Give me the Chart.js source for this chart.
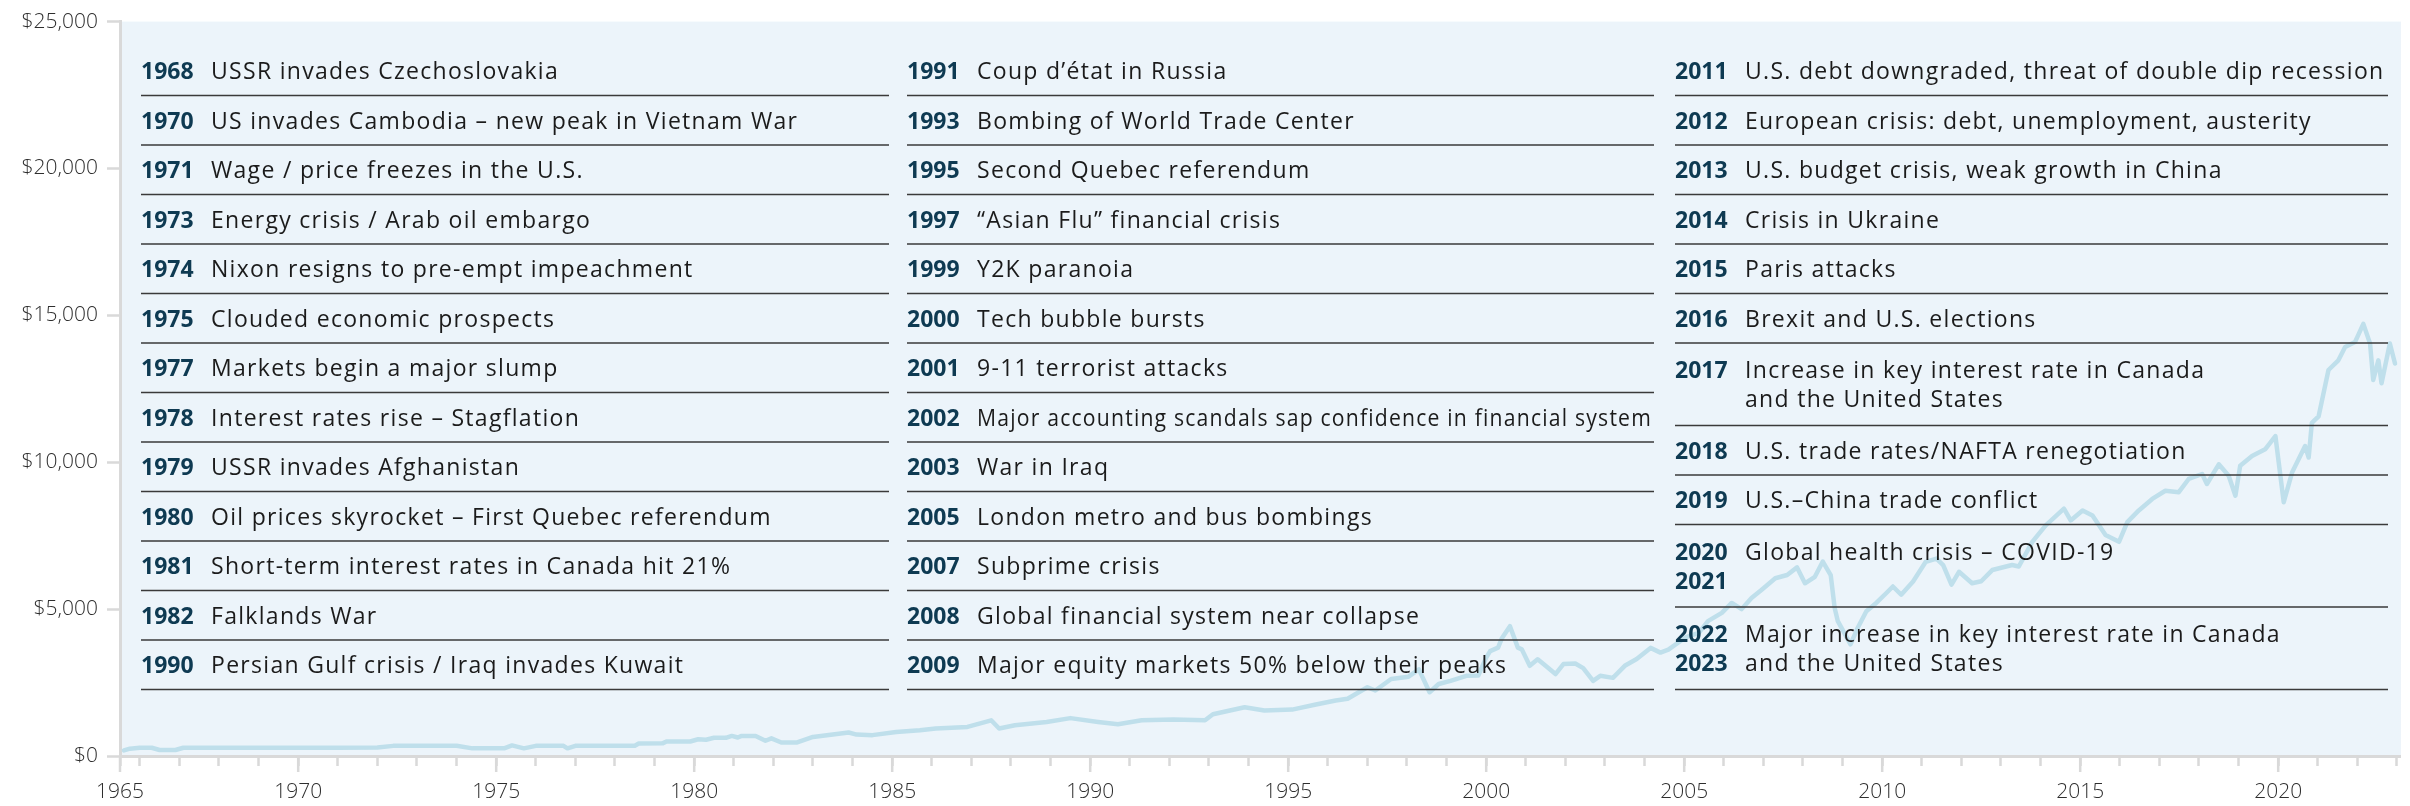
<!DOCTYPE html>
<html lang="en">
<head>
<meta charset="utf-8">
<title>Market events 1965–2023</title>
<script src="https://cdn.jsdelivr.net/npm/chart.js@4.4.1/dist/chart.umd.min.js"></script>
<style>
  html, body { margin: 0; padding: 0; background: #ffffff; }
  #wrap { width: 2410px; height: 806px; }
</style>
</head>
<body>
<div id="wrap"><canvas id="eventsChart" width="2410" height="806"></canvas></div>
<script>
// series (decimal year, value in $)
const years = [
  1965.6, 1965.75, 1966.0, 1966.3, 1966.5, 1966.9, 1967.1, 1968.0, 1969.0, 1970.0,
  1971.0, 1972.0, 1972.4, 1973.0, 1974.0, 1974.4, 1975.2, 1975.4, 1975.7, 1976.0,
  1976.7, 1976.8, 1977.0, 1978.0, 1978.5, 1978.6, 1979.2, 1979.3, 1979.9, 1980.1,
  1980.3, 1980.5, 1980.8, 1980.95, 1981.1, 1981.2, 1981.55, 1981.8, 1981.95, 1982.2,
  1982.6, 1983.0, 1983.35, 1983.9, 1984.1, 1984.5, 1985.1, 1985.7, 1986.1, 1986.9,
  1987.5, 1987.7, 1988.1, 1988.9, 1989.5, 1990.2, 1990.7, 1991.3, 1992.1, 1992.9,
  1993.1, 1993.9, 1994.4, 1995.1, 1995.7, 1996.2, 1996.5, 1997.0, 1997.2, 1997.6,
  1998.04, 1998.3, 1998.57, 1998.8, 1999.1, 1999.5, 1999.8, 2000.0, 2000.1, 2000.3,
  2000.4, 2000.6, 2000.8, 2000.9, 2001.1, 2001.3, 2001.5, 2001.75, 2001.95, 2002.25,
  2002.45, 2002.7, 2002.88, 2003.2, 2003.5, 2003.8, 2004.15, 2004.4, 2004.6, 2005.05,
  2005.37, 2005.6, 2005.95, 2006.2, 2006.45, 2006.7, 2006.95, 2007.3, 2007.6, 2007.85,
  2008.05, 2008.3, 2008.5, 2008.7, 2008.8, 2008.88, 2009.2, 2009.38, 2009.6, 2009.85,
  2010.1, 2010.27, 2010.48, 2010.78, 2011.1, 2011.37, 2011.54, 2011.75, 2011.94, 2012.27,
  2012.5, 2012.78, 2013.28, 2013.45, 2013.79, 2014.13, 2014.59, 2014.76, 2015.06, 2015.31,
  2015.64, 2015.98, 2016.19, 2016.48, 2016.82, 2017.15, 2017.49, 2017.74, 2018.08, 2018.2,
  2018.5, 2018.75, 2018.92, 2019.04, 2019.34, 2019.67, 2019.93, 2020.14, 2020.35, 2020.68,
  2020.77, 2020.85, 2021.02, 2021.27, 2021.52, 2021.69, 2021.94, 2022.15, 2022.32, 2022.4,
  2022.53, 2022.61, 2022.82, 2022.95
];
const values = [
  190, 250, 280, 280, 205, 205, 280, 285, 285, 280,
  285, 290, 345, 350, 350, 260, 260, 360, 260, 345,
  345, 260, 345, 350, 350, 425, 430, 495, 495, 570,
  555, 620, 620, 685, 630, 685, 680, 520, 600, 460,
  460, 650, 710, 800, 730, 710, 820, 880, 935, 990,
  1215, 935, 1045, 1160, 1290, 1160, 1080, 1215, 1240, 1215,
  1420, 1660, 1550, 1580, 1754, 1890, 1950, 2340, 2230, 2620,
  2700, 2950, 2170, 2450, 2560, 2730, 2740, 3350, 3570, 3690,
  4020, 4420, 3690, 3630, 3070, 3290, 3070, 2790, 3130, 3150,
  2990, 2560, 2730, 2660, 3070, 3300, 3680, 3520, 3620, 4050,
  4190, 4590, 4870, 5210, 5000, 5380, 5650, 6050, 6160, 6420,
  5880, 6100, 6620, 6160, 5040, 4590, 3800, 4360, 4930, 5210,
  5540, 5770, 5490, 5940, 6610, 6720, 6500, 5830, 6270, 5880,
  5950, 6330, 6500, 6450, 7290, 7850, 8420, 8020, 8360, 8190,
  7520, 7290, 7960, 8360, 8750, 9030, 8980, 9430, 9600, 9260,
  9930, 9540, 8860, 9880, 10210, 10440, 10890, 8640, 9650, 10550,
  10160, 11340, 11560, 13140, 13470, 13920, 14090, 14710, 14040, 12800,
  13470, 12690, 14040, 13360
];

const yTicks = [0, 5000, 10000, 15000, 20000, 25000];
const xStart = 1965.5;   // axis starts mid-1965, labelled "1965"
const xEnd = 2023.1;
const xLabelYears = [1965, 1970, 1975, 1980, 1985, 1990, 1995, 2000, 2005, 2010, 2015, 2020];

// event list, one pair of arrays per column ("\n" = second line)
const col1Years = ['1968', '1970', '1971', '1973', '1974', '1975', '1977', '1978', '1979', '1980', '1981', '1982', '1990'];
const col1Texts = [
  'USSR invades Czechoslovakia',
  'US invades Cambodia – new peak in Vietnam War',
  'Wage / price freezes in the U.S.',
  'Energy crisis / Arab oil embargo',
  'Nixon resigns to pre-empt impeachment',
  'Clouded economic prospects',
  'Markets begin a major slump',
  'Interest rates rise – Stagflation',
  'USSR invades Afghanistan',
  'Oil prices skyrocket – First Quebec referendum',
  'Short-term interest rates in Canada hit 21%',
  'Falklands War',
  'Persian Gulf crisis / Iraq invades Kuwait'
];
const col2Years = ['1991', '1993', '1995', '1997', '1999', '2000', '2001', '2002', '2003', '2005', '2007', '2008', '2009'];
const col2Texts = [
  'Coup d’état in Russia',
  'Bombing of World Trade Center',
  'Second Quebec referendum',
  '“Asian Flu” financial crisis',
  'Y2K paranoia',
  'Tech bubble bursts',
  '9-11 terrorist attacks',
  'Major accounting scandals sap confidence in financial system',
  'War in Iraq',
  'London metro and bus bombings',
  'Subprime crisis',
  'Global financial system near collapse',
  'Major equity markets 50% below their peaks'
];
const col3Years = ['2011', '2012', '2013', '2014', '2015', '2016', '2017', '2018', '2019', '2020\n2021', '2022\n2023'];
const col3Texts = [
  'U.S. debt downgraded, threat of double dip recession',
  'European crisis: debt, unemployment, austerity',
  'U.S. budget crisis, weak growth in China',
  'Crisis in Ukraine',
  'Paris attacks',
  'Brexit and U.S. elections',
  'Increase in key interest rate in Canada\nand the United States',
  'U.S. trade rates/NAFTA renegotiation',
  'U.S.–China trade conflict',
  'Global health crisis – COVID-19',
  'Major increase in key interest rate in Canada\nand the United States'
];

const FONT = '"Open Sans", "Noto Sans", "DejaVu Sans", sans-serif';

// column placement of the event list (canvas px)
const columns = [
  { years: col1Years, texts: col1Texts, yearX: 141, descX: 211, endX: 889 },
  { years: col2Years, texts: col2Texts, yearX: 907, descX: 977, endX: 1654 },
  { years: col3Years, texts: col3Texts, yearX: 1675, descX: 1745, endX: 2388 }
];
const listTop = 46;
const rowH = 49.5;
const doubleRowH = 82.5;
const firstLineOffset = 26.8;
const doubleFirstOffset = 28.5;
const lineGap = 29;

const plotBackground = {
  id: 'plotBackground',
  beforeDraw(chart) {
    const { ctx, chartArea } = chart;
    ctx.save();
    ctx.fillStyle = '#ecf4fa';
    ctx.fillRect(chartArea.left, chartArea.top, chartArea.right - chartArea.left, chartArea.bottom - chartArea.top);
    ctx.restore();
  }
};

// longer ticks at labelled years
const majorTicks = {
  id: 'majorTicks',
  afterDraw(chart) {
    const xs = chart.scales.x;
    const ctx = chart.ctx;
    ctx.save();
    ctx.strokeStyle = '#d9d9d9';
    ctx.lineWidth = 2.5;
    const vals = [xStart].concat(xLabelYears.filter(y => y > xStart));
    vals.forEach(v => {
      const px = xs.getPixelForValue(v);
      ctx.beginPath();
      ctx.moveTo(px, xs.top);
      ctx.lineTo(px, xs.top + 16);
      ctx.stroke();
    });
    ctx.restore();
  }
};

const eventList = {
  id: 'eventList',
  afterDatasetsDraw(chart) {
    const ctx = chart.ctx;
    ctx.save();
    ctx.textBaseline = 'middle';
    columns.forEach(col => {
      let top = listTop;
      col.years.forEach((yr, i) => {
        const yrLines = yr.split('\n');
        const txLines = col.texts[i].split('\n');
        const n = Math.max(yrLines.length, txLines.length);
        const h = n > 1 ? doubleRowH : rowH;
        const off = n > 1 ? doubleFirstOffset : firstLineOffset;
        for (let k = 0; k < n; k++) {
          const cy = top + off + k * lineGap;
          if (yrLines[k]) {
            ctx.letterSpacing = '0px';
            ctx.font = '700 23px ' + FONT;
            ctx.fillStyle = '#0e3a52';
            ctx.fillText(yrLines[k], col.yearX, cy);
          }
          if (txLines[k]) {
            ctx.letterSpacing = '1.3px';
            ctx.font = '400 23px ' + FONT;
            ctx.fillStyle = '#1b1b1b';
            ctx.fillText(txLines[k], col.descX, cy, col.endX - col.descX - 2);
          }
        }
        top += h;
        ctx.strokeStyle = '#3a3a3a';
        ctx.lineWidth = 1.6;
        ctx.beginPath();
        ctx.moveTo(col.yearX, top);
        ctx.lineTo(col.endX, top);
        ctx.stroke();
      });
    });
    ctx.restore();
  }
};

function xTickValues() {
  const ticks = [xStart];
  for (let y = Math.ceil(xStart); y <= xEnd; y++) ticks.push(y);
  return ticks;
}

function xLabel(v) {
  if (v === xStart) return String(xLabelYears[0]);
  return xLabelYears.includes(v) ? String(v) : '';
}

const ctx = document.getElementById('eventsChart').getContext('2d');
new Chart(ctx, {
  type: 'line',
  data: {
    datasets: [{
      label: 'Value',
      data: years.map((y, i) => ({ x: y, y: values[i] })),
      borderColor: '#bfdfeb',
      borderWidth: 4.5,
      pointRadius: 0,
      tension: 0,
      borderJoinStyle: 'round',
      borderCapStyle: 'round',
      fill: false
    }]
  },
  options: {
    responsive: false,
    animation: false,
    devicePixelRatio: 1,
    layout: { padding: { top: 15, right: 8, left: 0, bottom: 0 } },
    plugins: {
      legend: { display: false },
      tooltip: { enabled: false }
    },
    scales: {
      x: {
        type: 'linear',
        min: xStart,
        max: xEnd,
        afterBuildTicks: scale => { scale.ticks = xTickValues().map(v => ({ value: v })); },
        afterFit: scale => { scale.height = 50; },
        grid: { drawOnChartArea: false, drawTicks: true, tickLength: 10, tickColor: '#d9d9d9', tickWidth: 2.5 },
        border: { display: true, color: '#d9d9d9', width: 3 },
        ticks: {
          autoSkip: false,
          maxRotation: 0,
          padding: 13,
          color: '#2e2e2e',
          font: { family: FONT, size: 21, weight: '300' },
          callback: v => xLabel(v)
        }
      },
      y: {
        min: 0,
        max: 25000,
        afterBuildTicks: scale => { scale.ticks = yTicks.map(v => ({ value: v })); },
        afterFit: scale => { scale.width = 120; },
        grid: { drawOnChartArea: false, drawTicks: true, tickLength: 13, tickColor: '#d9d9d9', tickWidth: 2.5 },
        border: { display: true, color: '#d9d9d9', width: 3 },
        ticks: {
          padding: 9,
          color: '#2e2e2e',
          font: { family: FONT, size: 21, weight: '300' },
          callback: v => '$' + v.toLocaleString('en-US')
        }
      }
    }
  },
  plugins: [plotBackground, eventList, majorTicks]
});
</script>
</body>
</html>
